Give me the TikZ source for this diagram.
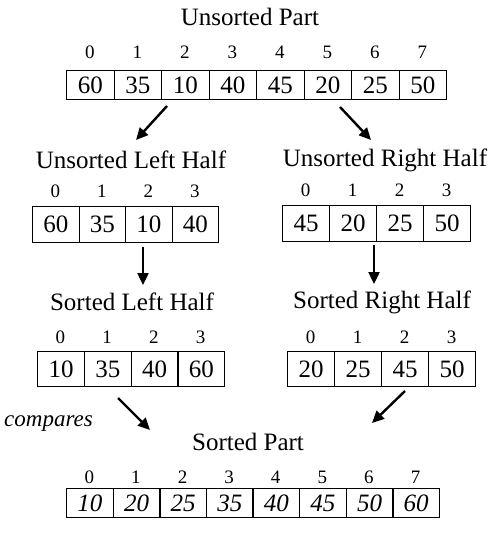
\documentclass[tikz,border=0pt]{standalone}
\usepackage{fontspec}
\setmainfont{Liberation Serif}
\usetikzlibrary{arrows.meta}
\newcommand\myarray[8]{% name, left, top, cellwidth, height, index y, values, font
  \foreach \v [count=\i from 0] in {#7} {
    \node[cellbox, minimum width=#4pt, minimum height=#5pt, anchor=north west, font=#8]
      (#1-\i) at ({#2+\i*#4},#3) {\v};
    \node[idx] (#1-i\i) at ({#2+(\i+0.5)*#4},#6) {\i};
  }}
\begin{document}
\begin{tikzpicture}[x=1pt,y=-1pt,
  lbl/.style={font=\fontsize{25}{28}\selectfont, inner sep=0pt},
  idx/.style={font=\fontsize{19}{22}\selectfont, inner sep=0pt},
  cellbox/.style={draw, line width=1.3pt, inner sep=0pt},
  arr/.style={line width=2.4pt, -{Triangle[length=12pt,width=11pt]}}]
\useasboundingbox (0,0) rectangle (503,533);
\def\cf{\fontsize{25}{28}\selectfont}
% labels
\node[lbl] (up) at (250,17) {Unsorted Part};
\node[lbl] (ulh) at (131,160) {Unsorted Left Half};
\node[lbl] (urh) at (385,160) {Unsorted Right Half};
\node[lbl] (slh) at (132,302) {Sorted Left Half};
\node[lbl] (srh) at (382,302) {Sorted Right Half};
\node[lbl] (sp) at (248,442) {Sorted Part};
\node[font=\fontsize{23}{26}\selectfont\itshape, inner sep=0pt, anchor=west] (cmp) at (4,424) {compares};
% arrays
\myarray{A}{66}{70}{47.5}{29}{52}{60,35,10,40,45,20,25,50}{\cf}
\myarray{L}{32}{206}{46.5}{36}{191}{60,35,10,40}{\cf}
\myarray{R}{282}{205}{47}{36}{190}{45,20,25,50}{\cf}
\myarray{SL}{37}{351}{46.75}{35}{337}{10,35,40,60}{\cf}
\myarray{SR}{287}{351}{47}{35}{337}{20,25,45,50}{\cf}
\myarray{S}{66}{488}{46.6}{29}{477}{10,20,25,35,40,45,50,60}{\cf\itshape}
% arrow end points
\coordinate (a1s) at (167,106); \coordinate (a1e) at (136,140);
\coordinate (a2s) at (340,107); \coordinate (a2e) at (371,140);
\coordinate (a3s) at (143,247); \coordinate (a3e) at (143,285);
\coordinate (a4s) at (374,245); \coordinate (a4e) at (374,284);
\coordinate (a5s) at (118,398); \coordinate (a5e) at (150,430);
\coordinate (a6s) at (405,391); \coordinate (a6e) at (372,423);
\draw[arr] (a1s) -- (a1e);
\draw[arr] (a2s) -- (a2e);
\draw[arr] (a3s) -- (a3e);
\draw[arr] (a4s) -- (a4e);
\draw[arr] (a5s) -- (a5e);
\draw[arr] (a6s) -- (a6e);
\end{tikzpicture}
\end{document}
